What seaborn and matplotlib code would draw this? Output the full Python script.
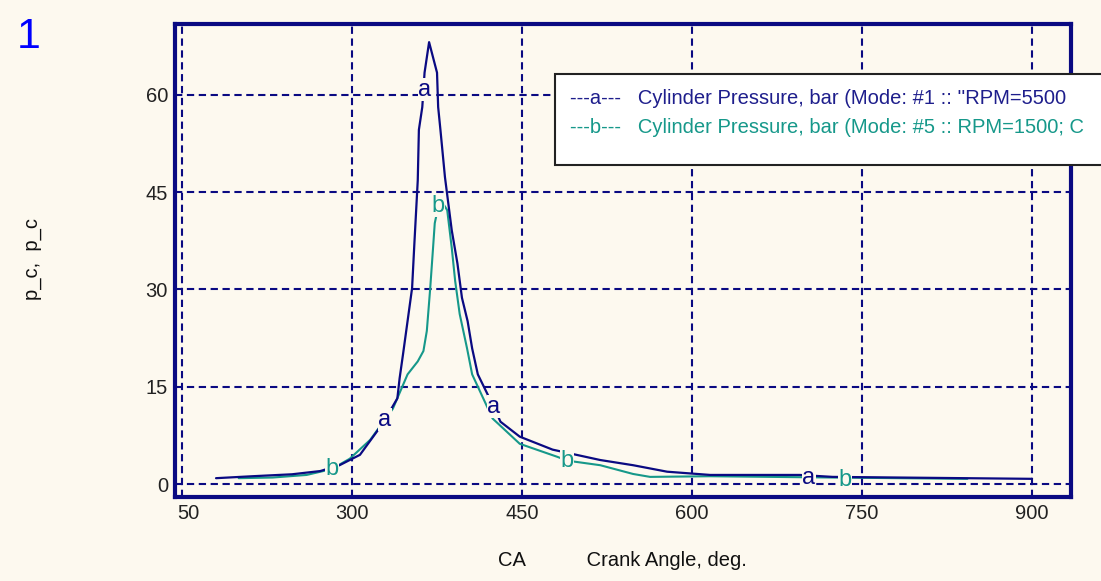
import matplotlib
matplotlib.use("Agg")
import matplotlib.pyplot as plt
import matplotlib.transforms as mtransforms
from matplotlib.lines import Line2D
from matplotlib.patches import Rectangle
import pandas as pd
import seaborn as sns

# ---- data ----
ca_a = [180, 212, 247, 272, 289, 307, 322, 329, 340, 342, 345, 349, 353, 355, 358, 359,
        362, 364, 368, 375, 376, 378, 382, 388, 393, 397, 402, 406, 411, 425, 431, 448,
        477, 519, 548, 578, 616, 695, 724, 900]
p_a = [0.9, 1.2, 1.5, 2.0, 2.9, 4.5, 8.1, 9.9, 13.2, 16.3, 20.0, 25.1, 30.2, 37.0, 46.8,
       54.6, 58.1, 63.4, 68.1, 63.4, 58.1, 54.6, 47.3, 39.1, 34.0, 28.7, 25.1, 20.9, 16.9,
       11.9, 9.6, 7.3, 5.3, 3.7, 2.9, 1.9, 1.4, 1.4, 1.1, 0.8]

ca_b = [200, 230, 260, 282, 298, 316, 336, 349, 358, 363, 366, 369, 371.5, 373, 377.6,
        384, 388, 391, 395, 401.5, 406, 424, 448, 481, 490, 519, 548, 563, 616, 724, 843]
p_b = [0.9, 1.0, 1.4, 2.3, 3.9, 6.8, 11.6, 16.9, 18.9, 20.5, 23.6, 30.2, 36.4, 40.2, 44.0,
       42.2, 36.4, 31.3, 26.2, 20.9, 16.9, 10.1, 6.2, 4.2, 3.6, 2.9, 1.55, 1.1, 1.2, 1.0, 0.8]

mark_a_ca = [329, 364, 425, 703]
mark_a_p = [9.9, 60.8, 11.9, 0.9]
mark_b_ca = [282, 376, 490, 735]
mark_b_p = [2.3, 42.9, 3.6, 0.6]

x_ticks = [150, 300, 450, 600, 750, 900]
x_tick_labels = ["50", "300", "450", "600", "750", "900"]
y_ticks = [0, 15, 30, 45, 60]
y_tick_labels = ["0", "15", "30", "45", "60"]

legend_labels = [
    "---a---   Cylinder Pressure, bar (Mode: #1 :: ''RPM=5500",
    "---b---   Cylinder Pressure, bar (Mode: #5 :: RPM=1500; C",
]

# ---- style ----
BG = "#FDF9EF"
NAVY = "#0A0A82"
TEAL = "#16988A"
NAVY_TXT = "#1E1E8C"
FS = 14.5

sns.set_style("white", {"axes.facecolor": BG, "figure.facecolor": BG})
plt.rcParams["font.family"] = ["Liberation Sans", "DejaVu Sans"]

fig = plt.figure(figsize=(11.01, 5.81), dpi=100)
fig.patch.set_facecolor(BG)
W, H = 1101, 581
ax = fig.add_axes([175 / W, 1 - 497 / H, (1071 - 175) / W, (497 - 24) / H])
ax.set_facecolor(BG)

df_a = pd.DataFrame({"CA": ca_a, "p": p_a})
df_b = pd.DataFrame({"CA": ca_b, "p": p_b})
sns.lineplot(data=df_b, x="CA", y="p", color=TEAL, linewidth=1.5, ax=ax, zorder=3)
sns.lineplot(data=df_a, x="CA", y="p", color=NAVY, linewidth=1.6, ax=ax, zorder=4)

for cx, py in zip(mark_a_ca, mark_a_p):
    ax.text(cx, py, "a", color=NAVY, fontsize=17, ha="center", va="center", zorder=6,
            bbox=dict(boxstyle="square,pad=0.02", fc=BG, ec="none"))
for cx, py in zip(mark_b_ca, mark_b_p):
    ax.text(cx, py, "b", color=TEAL, fontsize=17, ha="center", va="center", zorder=5,
            bbox=dict(boxstyle="square,pad=0.02", fc=BG, ec="none"))

ax.set_xlim(143.8, 934.4)
ax.set_ylim(-2.0, 70.9)
ax.set_xticks(x_ticks)
ax.set_xticklabels(x_tick_labels)
ax.set_yticks(y_ticks)
ax.set_yticklabels(y_tick_labels)
ax.tick_params(axis="both", direction="in", length=6, width=1.2, color=NAVY,
               labelsize=FS, labelcolor="#222222")
ax.tick_params(axis="x", pad=5)
ax.tick_params(axis="y", pad=5)

ax.grid(True, color=NAVY, linestyle=(0, (3.5, 2.2)), linewidth=1.5)
ax.set_axisbelow(True)
for sp in ax.spines.values():
    sp.set_color(NAVY)
    sp.set_linewidth(3)
    sp.set_visible(True)

# shift the first (clipped) x tick label to sit like the reference
lbl0 = ax.get_xticklabels()[0]
lbl0.set_transform(lbl0.get_transform() + mtransforms.ScaledTranslation(6 / 100, 0, fig.dpi_scale_trans))

ax.set_xlabel("CA           Crank Angle, deg.", fontsize=FS, color="#111111")
ax.xaxis.set_label_coords((622 - 175) / 896, (497 - 560) / 473)
ax.xaxis.label.set_va("center")
ax.set_ylabel("p_c,  p_c", fontsize=FS, color="#111111")
ax.yaxis.set_label_coords((33 - 175) / 896, (497 - 259) / 473)
ax.yaxis.label.set_va("center")

fig.text(29 / W, 1 - 37 / H, "1", color="#0000FF", fontsize=31, ha="center", va="center")

# legend box (runs off the right edge like the reference)
box = Rectangle((555 / W, 1 - 165 / H), (1120 - 555) / W, (165 - 74) / H,
                transform=fig.transFigure, facecolor="white", edgecolor="#222222",
                linewidth=1.5, zorder=4)
fig.add_artist(box)

handles = [Line2D([], [], linestyle="none") for _ in legend_labels]
leg = fig.legend(handles=handles, labels=legend_labels, loc="upper left",
                 bbox_to_anchor=(555 / W, 1 - 74 / H), handlelength=0, handletextpad=0,
                 labelcolor=[NAVY_TXT, TEAL], frameon=False,
                 borderpad=0.75, labelspacing=0.5, fontsize=FS, borderaxespad=0)
leg.set_zorder(5)

fig.savefig("out.png", dpi=100, facecolor=BG)
